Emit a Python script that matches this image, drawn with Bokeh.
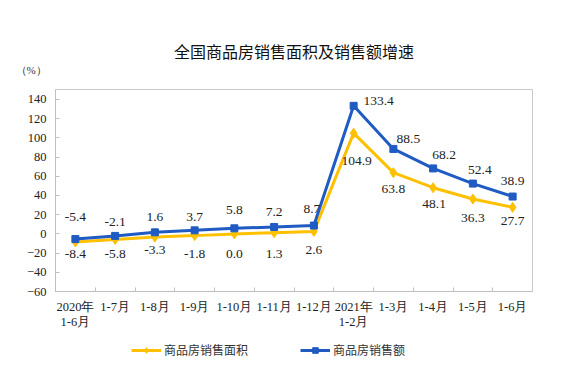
from bokeh.plotting import figure
from bokeh.layouts import column
from bokeh.models import (ColumnDataSource, Range1d, Legend, LegendItem, LinearAxis,
                          Title, FixedTicker)
from bokeh.embed import file_html
from bokeh.resources import INLINE
from bokeh.core.properties import value

title_text = "全国商品房销售面积及销售额增速"
unit_text = "（%）"
categories = ["2020年\n1-6月", "1-7月", "1-8月", "1-9月", "1-10月", "1-11月", "1-12月",
              "2021年\n1-2月", "1-3月", "1-4月", "1-5月", "1-6月"]
area_growth = [-8.4, -5.8, -3.3, -1.8, 0.0, 1.3, 2.6, 104.9, 63.8, 48.1, 36.3, 27.7]
sales_growth = [-5.4, -2.1, 1.6, 3.7, 5.8, 7.2, 8.7, 133.4, 88.5, 68.2, 52.4, 38.9]
series_names = ["商品房销售面积", "商品房销售额"]
y_ticks = [-60, -40, -20, 0, 20, 40, 60, 80, 100, 120, 140]

# label styling offsets (px)
sales_dx = [0, 0, 0, 0, 0, 0, -2, 25, 15, 11, 7, 0]
sales_dy = [-22, -14, -15, -13, -18, -15, -17, -5, -10, -13, -14, -16]
area_dx = [0, 0, 0, 0, 0, 0, 0, 3, 0, 1, 0, 0]
area_dy = [12, 15, 13, 18, 20, 21, 19, 28, 16, 16, 19, 14]

YELLOW = "#FFC000"
BLUE = "#1F5BC2"
SERIF = "Liberation Serif"
CJK = "Noto Sans CJK SC"

n = len(categories)
centers = [i + 0.5 for i in range(n)]
bounds = list(range(1, n))

src = ColumnDataSource(dict(
    x=centers, area=area_growth, sales=sales_growth,
    area_t=["%.1f" % v for v in area_growth],
    sales_t=["%.1f" % v for v in sales_growth],
    sdx=sales_dx, sdy=sales_dy, adx=area_dx, ady=area_dy,
))

p = figure(width=561, height=334, x_range=Range1d(0, n),
           y_range=Range1d(-60, 150.4), output_backend="svg", toolbar_location=None,
           min_border_left=55, min_border_right=29, min_border_top=89, min_border_bottom=43)
p.outline_line_color = "#c8c8c8"
p.grid.visible = False
p.background_fill_color = "white"
p.border_fill_color = "white"

# titles
p.title.text = title_text
p.title.align = "center"
p.title.offset = 6
p.title.text_font = CJK
p.title.text_font_style = "normal"
p.title.text_font_size = "16px"
p.title.text_color = "#111111"
p.title.standoff = -28
p.add_layout(Title(text=unit_text, align="left", offset=-40, text_font=SERIF,
                   text_font_style="normal", text_font_size="11px",
                   text_color="#333333", standoff=27), "above")

# axes
p.yaxis.ticker = y_ticks
xa1 = p.xaxis[0]
xa1.ticker = FixedTicker(ticks=centers, minor_ticks=bounds)
xa1.major_label_overrides = {c: cat.split("\n")[0] for c, cat in zip(centers, categories)}
xa1.major_tick_line_color = None
xa1.minor_tick_line_color = "#bfbfbf"
xa1.minor_tick_in = 4
xa1.minor_tick_out = 0
xa1.major_label_standoff = 8
xa2 = LinearAxis(ticker=FixedTicker(ticks=centers, minor_ticks=[]),
                 major_label_overrides={c: (cat.split("\n")[1] if "\n" in cat else "")
                                        for c, cat in zip(centers, categories)},
                 axis_line_color=None, major_tick_line_color=None,
                 minor_tick_line_color=None, major_label_standoff=-2)
p.add_layout(xa2, "below")
ya = p.yaxis[0]
ya.major_tick_line_color = "#bfbfbf"
ya.minor_tick_line_color = None
ya.major_tick_in = 4
ya.major_label_standoff = 9
for ax in (xa1, xa2, ya):
    ax.axis_line_color = "#bfbfbf" if ax is not xa2 else None
    ax.major_tick_out = 0
    ax.major_label_text_font = SERIF
    ax.major_label_text_font_size = "12.5px"
    ax.major_label_text_color = "#222222"

p.line("x", "area", source=src, color=YELLOW, line_width=3)
p.scatter("x", "area", source=src, marker="diamond", size=10, color=YELLOW)
p.line("x", "sales", source=src, color=BLUE, line_width=3)
p.scatter("x", "sales", source=src, marker="square", size=7, color=BLUE)

p.text("x", "sales", text="sales_t", source=src, x_offset="sdx", y_offset="sdy",
       text_font=value(SERIF), text_font_size="13.5px", text_align="center",
       text_baseline="middle", text_color="#222222")
p.text("x", "area", text="area_t", source=src, x_offset="adx", y_offset="ady",
       text_font=value(SERIF), text_font_size="13.5px", text_align="center",
       text_baseline="middle", text_color="#222222")

# legend strip (separate figure so the legend is not clipped by the plot frame)
lf = figure(width=561, height=26, x_range=Range1d(0, 1), y_range=Range1d(0, 1),
            output_backend="svg", toolbar_location=None, min_border=0)
lf.axis.visible = False
lf.grid.visible = False
lf.outline_line_color = None
lsrc = ColumnDataSource(dict(x=[-10, -9], y=[-10, -10]))
la = lf.line("x", "y", source=lsrc, color=YELLOW, line_width=3)
ma = lf.scatter("x", "y", source=lsrc, marker="diamond", size=10, color=YELLOW)
ls = lf.line("x", "y", source=lsrc, color=BLUE, line_width=3)
ms = lf.scatter("x", "y", source=lsrc, marker="square", size=7, color=BLUE)
legend = Legend(items=[LegendItem(label=series_names[0], renderers=[la, ma]),
                       LegendItem(label=series_names[1], renderers=[ls, ms])],
                location=(76, 2), orientation="horizontal", glyph_width=30, glyph_height=14,
                label_standoff=3, spacing=52, padding=0, margin=0,
                border_line_color=None, background_fill_alpha=0,
                label_text_font=CJK, label_text_font_size="12px",
                label_text_color="#333333")
lf.add_layout(legend)

layout = column(p, lf, spacing=0)
open("out.html", "w").write(file_html(layout, INLINE))
